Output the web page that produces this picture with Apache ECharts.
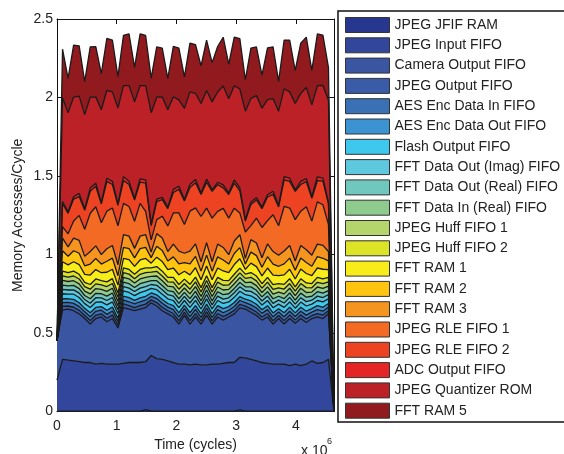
<!DOCTYPE html>
<html><head><meta charset="utf-8">
<script src="https://cdn.jsdelivr.net/npm/echarts@6/dist/echarts.min.js"></script>
<style>html,body{margin:0;padding:0;background:#fff}#c{width:564px;height:454px}</style>
</head><body><div id="c"></div>
<script>
// x positions (cycles)
const cycles = [0,92800,185600,278400,371200,464000,556800,649600,742400,835200,
 928000,1020800,1113600,1206400,1299200,1392000,1484800,1577600,1670400,1763200,
 1856000,1948800,2041600,2134400,2227200,2320000,2412800,2505600,2598400,2691200,
 2784000,2876800,2969600,3062400,3155200,3248000,3340800,3433600,3526400,3619200,
 3712000,3804800,3897600,3990400,4083200,4176000,4268800,4361600,4454400,4547200,4640000];

const names = ["JPEG JFIF RAM","JPEG Input FIFO","Camera Output FIFO","JPEG Output FIFO",
 "AES Enc Data In FIFO","AES Enc Data Out FIFO","Flash Output FIFO","FFT Data Out (Imag) FIFO",
 "FFT Data Out (Real) FIFO","FFT Data In (Real) FIFO","JPEG Huff FIFO 1","JPEG Huff FIFO 2",
 "FFT RAM 1","FFT RAM 2","FFT RAM 3","JPEG RLE FIFO 1","JPEG RLE FIFO 2","ADC Output FIFO",
 "JPEG Quantizer ROM","FFT RAM 5"];

const colors = ['#27378f','#32479b','#3a55a2','#3a5ba8','#3a70b6','#3c93d2','#3ec8ee','#5ec8df',
 '#6fc7bd','#8fcb8d','#b4d56c','#dde326','#f8ec1a','#fec40f','#f69420','#f26a24','#ee4323',
 '#e52525','#bb2126','#911a1e'];

const jpegJfifRam = [0,.002,.002,.002,.002,.002,.002,.002,.002,.002,
 .002,.002,.002,.002,.002,.002,.012,.002,.002,.002,
 .002,.002,.002,.002,.002,.002,.002,.002,.002,.002,
 .002,.002,.002,.010,.002,.002,.002,.002,.002,.002,
 .002,.002,.002,.002,.002,.002,.002,.002,.002,.002,0];
const jpegInputFifo = [.2,.33,.325,.32,.315,.31,.31,.30,.305,.30,
 .30,.30,.305,.31,.31,.31,.305,.355,.335,.33,
 .32,.31,.30,.30,.295,.30,.295,.295,.30,.30,
 .305,.31,.31,.335,.34,.33,.32,.31,.305,.30,
 .30,.30,.29,.30,.29,.30,.32,.305,.31,.33,0];
const cameraOutputFifo = [.25,.315,.325,.32,.305,.28,.245,.29,.295,.27,
 .29,.23,.355,.34,.33,.34,.345,.335,.335,.31,
 .30,.29,.255,.31,.26,.30,.26,.315,.255,.30,
 .275,.29,.31,.315,.31,.30,.29,.27,.295,.255,
 .29,.255,.30,.26,.30,.265,.27,.295,.28,.29,0];
const jpegOutputFifo = [0,.022,.020,.022,.022,.020,.022,.021,.020,.022,
 .022,.019,.023,.022,.020,.022,.022,.019,.022,.022,
 .020,.022,.021,.020,.022,.022,.020,.022,.020,.022,
 .022,.020,.022,.022,.019,.022,.022,.020,.022,.021,
 .019,.022,.022,.020,.022,.022,.019,.022,.022,.020,0];
const aesEncDataIn = [0,.025,.023,.025,.024,.023,.025,.025,.023,.025,
 .026,.022,.025,.025,.023,.025,.025,.022,.025,.025,
 .023,.025,.025,.023,.025,.026,.023,.025,.023,.025,
 .025,.023,.025,.025,.022,.025,.025,.023,.025,.025,
 .022,.025,.025,.023,.025,.025,.022,.025,.025,.023,0];
const aesEncDataOut = [0,.024,.023,.025,.025,.022,.025,.025,.023,.026,
 .025,.022,.025,.026,.023,.025,.025,.022,.024,.025,
 .023,.025,.025,.022,.025,.025,.023,.025,.023,.025,
 .026,.023,.025,.025,.022,.025,.024,.023,.025,.025,
 .022,.025,.026,.023,.025,.025,.022,.025,.025,.023,0];
const flashOutputFifo = [0,.032,.030,.033,.033,.030,.033,.033,.030,.034,
 .033,.029,.033,.033,.030,.033,.034,.029,.033,.033,
 .030,.033,.033,.030,.034,.033,.030,.033,.030,.033,
 .033,.030,.033,.034,.029,.033,.033,.030,.033,.033,
 .029,.034,.033,.030,.033,.033,.029,.033,.034,.030,0];
const fftDataOutImag = [0,.028,.026,.028,.028,.026,.028,.029,.026,.028,
 .028,.025,.028,.028,.026,.029,.028,.025,.028,.028,
 .026,.028,.028,.026,.028,.029,.026,.028,.026,.028,
 .028,.026,.029,.028,.025,.028,.028,.026,.028,.028,
 .025,.028,.029,.026,.028,.028,.025,.028,.028,.026,0];
const fftDataOutReal = [0,.027,.026,.028,.029,.026,.028,.028,.026,.028,
 .029,.025,.028,.028,.026,.028,.028,.025,.029,.028,
 .026,.028,.029,.026,.028,.028,.026,.029,.026,.028,
 .028,.026,.028,.028,.025,.029,.028,.026,.028,.029,
 .025,.028,.028,.026,.029,.028,.025,.028,.028,.026,0];
const fftDataInReal = [0,.030,.028,.030,.030,.028,.031,.030,.028,.030,
 .030,.027,.030,.031,.028,.030,.030,.027,.030,.030,
 .028,.031,.030,.028,.030,.030,.028,.031,.028,.030,
 .030,.028,.030,.031,.027,.030,.030,.028,.031,.030,
 .027,.030,.030,.028,.031,.030,.027,.030,.030,.028,0];
const jpegHuff1 = [0,.029,.028,.030,.031,.028,.030,.030,.028,.031,
 .030,.027,.031,.030,.028,.030,.031,.027,.030,.030,
 .028,.030,.031,.028,.030,.031,.028,.030,.028,.031,
 .030,.028,.030,.030,.027,.031,.030,.028,.030,.030,
 .027,.031,.030,.028,.030,.031,.027,.030,.031,.028,0];
const jpegHuff2 = [0,.030,.028,.031,.030,.028,.030,.031,.028,.030,
 .031,.027,.030,.030,.028,.031,.030,.027,.030,.031,
 .028,.030,.030,.028,.031,.030,.028,.030,.028,.030,
 .031,.028,.030,.030,.027,.030,.031,.028,.030,.030,
 .027,.030,.031,.028,.030,.030,.027,.031,.030,.028,0];
const fftRam1 = [0,.060,.050,.060,.062,.050,.060,.060,.050,.061,
 .060,.050,.060,.062,.050,.060,.060,.030,.060,.061,
 .050,.060,.062,.050,.060,.060,.050,.061,.050,.060,
 .060,.050,.062,.060,.030,.060,.060,.050,.060,.061,
 .050,.060,.060,.050,.062,.060,.050,.060,.061,.050,0];
const fftRam2 = [0,.070,.055,.070,.072,.055,.070,.070,.055,.070,
 .071,.060,.070,.070,.055,.072,.070,.035,.070,.070,
 .055,.071,.070,.055,.070,.072,.055,.070,.055,.071,
 .070,.055,.070,.071,.035,.070,.070,.055,.072,.070,
 .060,.070,.071,.055,.070,.070,.060,.072,.070,.055,0];
const fftRam3 = [0,.080,.060,.080,.082,.060,.080,.081,.060,.080,
 .080,.070,.082,.080,.060,.080,.081,.035,.080,.080,
 .060,.081,.080,.060,.082,.080,.060,.080,.060,.081,
 .080,.060,.080,.082,.035,.080,.080,.060,.081,.080,
 .070,.082,.080,.060,.080,.081,.070,.080,.082,.060,0];
const jpegRle1 = [0,.074,.083,.109,.159,.173,.244,.249,.203,.239,
 .239,.248,.199,.189,.173,.209,.149,.078,.089,.139,
 .163,.199,.244,.183,.254,.229,.288,.219,.278,.209,
 .249,.233,.209,.139,.168,.089,.159,.193,.149,.234,
 .188,.284,.239,.263,.219,.274,.218,.269,.259,.173,0];
const jpegRle2 = [0,.145,.13,.14,.12,.12,.14,.13,.12,.19,
 .15,.13,.145,.14,.135,.135,.18,.09,.115,.105,
 .11,.13,.15,.15,.15,.16,.14,.165,.17,.17,
 .13,.15,.16,.14,.07,.135,.115,.12,.15,.13,
 .12,.17,.17,.18,.17,.16,.145,.135,.15,.13,0];
const adcOutputFifo = [0,.015,.01,.015,.02,.01,.02,.02,.01,.02,
 .02,.01,.025,.02,.01,.02,.02,.01,.015,.015,
 .01,.02,.02,.01,.02,.02,.01,.02,.01,.015,
 .02,.01,.02,.02,.01,.015,.015,.01,.015,.02,
 .01,.02,.02,.01,.02,.02,.01,.025,.02,.01,0];
const jpegQuantRom = [0,.66,.63,.635,.62,.60,.58,.55,.59,.56,
 .57,.61,.58,.61,.615,.595,.60,.71,.65,.64,
 .62,.59,.55,.58,.59,.55,.57,.565,.56,.575,
 .63,.60,.60,.63,.69,.66,.65,.63,.605,.59,
 .60,.56,.55,.55,.56,.58,.585,.58,.59,.65,0];
const fftRam5 = [0,.31,.22,.33,.32,.21,.32,.32,.23,.33,
 .33,.20,.32,.33,.22,.33,.32,.22,.32,.31,
 .20,.32,.33,.20,.31,.31,.24,.32,.25,.29,
 .31,.22,.31,.32,.20,.32,.31,.21,.33,.33,
 .19,.31,.33,.21,.32,.32,.22,.33,.32,.21,0];

const layers = [jpegJfifRam,jpegInputFifo,cameraOutputFifo,jpegOutputFifo,aesEncDataIn,aesEncDataOut,
 flashOutputFifo,fftDataOutImag,fftDataOutReal,fftDataInReal,jpegHuff1,jpegHuff2,fftRam1,fftRam2,
 fftRam3,jpegRle1,jpegRle2,adcOutputFifo,jpegQuantRom,fftRam5];

const xTickLabels = ['0','1','2','3','4'];
const yTicks = [0, 0.5, 1, 1.5, 2, 2.5];
const FONT = "'Liberation Sans', Arial, Helvetica, sans-serif";

const series = layers.map((vals, k) => ({
  name: names[k],
  type: 'line',
  stack: 'total',
  xAxisIndex: 0,
  yAxisIndex: 0,
  symbol: 'none',
  showSymbol: false,
  lineStyle: { color: '#1a1a1a', width: 1.3 },
  itemStyle: { color: colors[k] },
  areaStyle: { color: colors[k], opacity: 1 },
  emphasis: { disabled: true },
  data: vals.slice()
}));

const chart = echarts.init(document.getElementById('c'), null, { renderer: 'canvas' });
chart.setOption({
  animation: false,
  backgroundColor: '#ffffff',
  textStyle: { fontFamily: FONT },
  grid: { left: 57, right: 230, top: 19, bottom: 42.5, containLabel: false, outerBoundsMode: 'none' },
  xAxis: [{
    type: 'category', data: cycles, boundaryGap: false, show: false
  }, {
    type: 'value', position: 'bottom', min: 0, max: 4640000, interval: 1000000,
    name: 'Time (cycles)', nameLocation: 'middle', nameGap: 24,
    nameTextStyle: { fontSize: 14, color: '#222', fontFamily: FONT },
    axisLine: { show: true, onZero: false, lineStyle: { color: '#111', width: 1 } },
    axisTick: { show: true, inside: true, length: 5, lineStyle: { color: '#111' } },
    axisLabel: { fontSize: 14, color: '#222', margin: 8, fontFamily: FONT, showMaxLabel: false,
      formatter: v => (v % 1000000 === 0 ? xTickLabels[v / 1000000] : '') },
    splitLine: { show: false }
  }, {
    type: 'value', position: 'top', min: 0, max: 4640000, interval: 1000000,
    axisLine: { show: true, onZero: false, lineStyle: { color: '#111', width: 1 } },
    axisTick: { show: true, inside: true, length: 5, lineStyle: { color: '#111' } },
    axisLabel: { show: false }, splitLine: { show: false }
  }],
  yAxis: [{
    type: 'value', min: 0, max: 2.5, interval: 0.5,
    name: 'Memory Accesses/Cycle', nameLocation: 'middle', nameGap: 32, nameRotate: 90,
    nameTextStyle: { fontSize: 14, color: '#222', fontFamily: FONT },
    axisLine: { show: true, onZero: false, lineStyle: { color: '#111', width: 1 } },
    axisTick: { show: true, inside: true, length: 5, lineStyle: { color: '#111' } },
    axisLabel: { fontSize: 14, color: '#222', margin: 4, fontFamily: FONT,
      formatter: v => (yTicks.indexOf(v) >= 0 ? String(v) : '') },
    splitLine: { show: false }
  }, {
    type: 'value', position: 'right', min: 0, max: 2.5, interval: 0.5,
    axisLine: { show: true, onZero: false, lineStyle: { color: '#111', width: 1 } },
    axisTick: { show: true, inside: true, length: 5, lineStyle: { color: '#111' } },
    axisLabel: { show: false }, splitLine: { show: false }
  }],
  legend: {
    orient: 'vertical', left: 345, top: 17,
    itemWidth: 44, itemHeight: 15, itemGap: 4.3,
    icon: 'rect',
    padding: 0,
    textStyle: { fontSize: 14, lineHeight: 15, color: '#222', fontFamily: FONT },
    selectedMode: false,
    data: names.map((n, k) => ({ name: n, icon: 'rect',
      itemStyle: { color: colors[k], borderColor: '#333', borderWidth: 1 } }))
  },
  graphic: [
    { type: 'rect', shape: { x: 338, y: 11, width: 240, height: 411 },
      style: { fill: 'none', stroke: '#111', lineWidth: 1.5 }, z: 100 },
    { type: 'text', left: 301, top: 444, style: { text: 'x 10', fontSize: 14, fill: '#222', fontFamily: FONT }, z: 100 },
    { type: 'text', left: 327, top: 437, style: { text: '6', fontSize: 9, fill: '#222', fontFamily: FONT }, z: 100 }
  ],
  series: series
});
</script></body></html>
